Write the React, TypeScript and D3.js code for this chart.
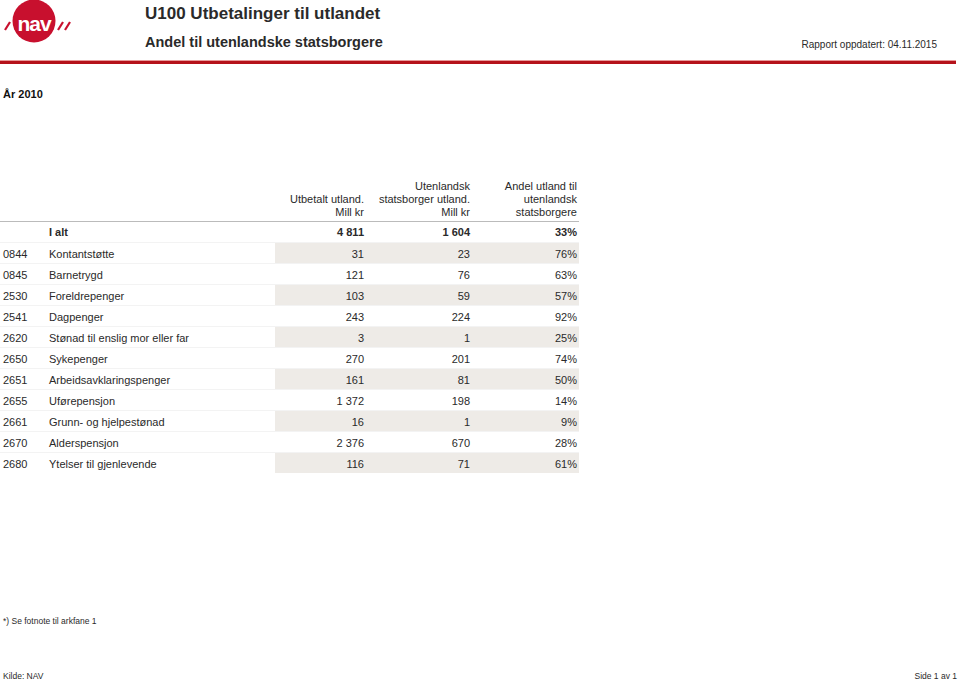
import React, { useRef, useEffect } from "react";
import * as d3 from "d3";

const codes = ["0844", "0845", "2530", "2541", "2620", "2650", "2651", "2655", "2661", "2670", "2680"];
const names = [
    "Kontantstøtte",
    "Barnetrygd",
    "Foreldrepenger",
    "Dagpenger",
    "Stønad til enslig mor eller far",
    "Sykepenger",
    "Arbeidsavklaringspenger",
    "Uførepensjon",
    "Grunn- og hjelpestønad",
    "Alderspensjon",
    "Ytelser til gjenlevende",
];
const utbetalt = [31, 121, 103, 243, 3, 270, 161, 1372, 16, 2376, 116];
const utenlandsk = [23, 76, 59, 224, 1, 201, 81, 198, 1, 670, 71];
const andel = [76, 63, 57, 92, 25, 74, 50, 14, 9, 28, 61];
const totals = ["I alt", 4811, 1604, 33];
const colHeaders = [
    ["Utbetalt utland.", "Mill kr"],
    ["Utenlandsk", "statsborger utland.", "Mill kr"],
    ["Andel utland til", "utenlandsk", "statsborgere"],
];

const App = () => {
    const ref = useRef(null);

    useEffect(() => {
        const width = 960;
        const height = 681;
        const font = "'Liberation Sans', Arial, sans-serif";
        const ink = "#2a2a2a";
        const red = "#c8102e";
        const num = d3.formatLocale({ decimal: ",", thousands: "\u00a0", grouping: [3], currency: ["", " kr"] }).format(",d");

        const svg = d3.create("svg")
            .attr("width", width)
            .attr("height", height)
            .attr("viewBox", [0, 0, width, height])
            .style("display", "block")
            .style("font-family", font);

        // logo
        const logo = svg.append("g");
        logo.append("circle").attr("cx", 34).attr("cy", 21).attr("r", 21.5).attr("fill", red);
        logo.append("text")
            .attr("x", 34).attr("y", 31)
            .attr("text-anchor", "middle")
            .attr("fill", "#fff")
            .style("font", `bold 21px ${font}`)
            .style("letter-spacing", "-1px")
            .text("nav");
        [[5, 30, 10, 22], [58, 30, 63, 22], [65, 30, 70, 22]].forEach(([x1, y1, x2, y2]) => {
            logo.append("line")
                .attr("x1", x1).attr("y1", y1).attr("x2", x2).attr("y2", y2)
                .attr("stroke", red).attr("stroke-width", 2.2);
        });

        svg.append("text").attr("x", 145).attr("y", 19)
            .attr("fill", ink).style("font", `bold 17px ${font}`)
            .text("U100 Utbetalinger til utlandet");
        svg.append("text").attr("x", 145).attr("y", 47)
            .attr("fill", ink).style("font", `bold 14.5px ${font}`)
            .text("Andel til utenlandske statsborgere");
        svg.append("text").attr("x", 937).attr("y", 48)
            .attr("text-anchor", "end")
            .attr("fill", ink).style("font", `10px ${font}`)
            .text("Rapport oppdatert: 04.11.2015");

        svg.append("rect").attr("x", 0).attr("y", 60).attr("width", 956).attr("height", 1).attr("fill", "#e89a9a");
        svg.append("rect").attr("x", 0).attr("y", 61).attr("width", 956).attr("height", 3).attr("fill", "#b5121b");

        svg.append("text").attr("x", 3).attr("y", 98)
            .attr("fill", "#111").style("font", `bold 11px ${font}`)
            .text("År 2010");

        // table
        const colRight = [364, 470, 577];
        const tableRight = 579;
        const shadeLeft = 275;
        const fs = 11;

        colHeaders.forEach((lines, i) => {
            const t = svg.append("text")
                .attr("text-anchor", "end")
                .attr("fill", ink)
                .style("font", `${fs}px ${font}`);
            lines.forEach((ln, j) => {
                t.append("tspan")
                    .attr("x", colRight[i])
                    .attr("y", 216 - (lines.length - 1 - j) * 13)
                    .text(ln);
            });
        });

        svg.append("line")
            .attr("x1", 0).attr("x2", tableRight)
            .attr("y1", 221.5).attr("y2", 221.5)
            .attr("stroke", "#bbb");

        const rows = ["total", ...codes];
        const y = d3.scaleBand().domain(rows).range([222, 222 + rows.length * 21]);

        // total row
        svg.append("text").attr("x", 49).attr("y", y("total") + 14)
            .attr("fill", ink).style("font", `bold ${fs}px ${font}`).text(totals[0]);
        [num(totals[1]), num(totals[2]), totals[3] + "%"].forEach((v, i) => {
            svg.append("text").attr("x", colRight[i]).attr("y", y("total") + 14)
                .attr("text-anchor", "end")
                .attr("fill", ink).style("font", `bold ${fs}px ${font}`).text(v);
        });

        codes.forEach((code, i) => {
            const top = y(code);
            if (i % 2 === 0) {
                svg.append("rect")
                    .attr("x", shadeLeft).attr("y", top)
                    .attr("width", tableRight - shadeLeft).attr("height", y.bandwidth() - 1)
                    .attr("fill", "#eeebe7");
            }
            svg.append("line")
                .attr("x1", 0).attr("x2", tableRight)
                .attr("y1", top - 0.5).attr("y2", top - 0.5)
                .attr("stroke", "#f3f3f3");
            const base = top + 15;
            svg.append("text").attr("x", 3).attr("y", base)
                .attr("fill", ink).style("font", `${fs}px ${font}`).text(code);
            svg.append("text").attr("x", 49).attr("y", base)
                .attr("fill", ink).style("font", `${fs}px ${font}`).text(names[i]);
            [num(utbetalt[i]), num(utenlandsk[i]), andel[i] + "%"].forEach((v, k) => {
                svg.append("text").attr("x", colRight[k]).attr("y", base)
                    .attr("text-anchor", "end")
                    .attr("fill", ink).style("font", `${fs}px ${font}`).text(v);
            });
        });

        svg.append("text").attr("x", 3).attr("y", 624)
            .attr("fill", ink).style("font", `8.5px ${font}`)
            .text("*) Se fotnote til arkfane 1");
        svg.append("text").attr("x", 3).attr("y", 679)
            .attr("fill", ink).style("font", `8.5px ${font}`)
            .text("Kilde: NAV");
        svg.append("text").attr("x", 957).attr("y", 679)
            .attr("text-anchor", "end")
            .attr("fill", ink).style("font", `8.5px ${font}`)
            .text("Side 1 av 1");

        ref.current.innerHTML = "";
        ref.current.appendChild(svg.node());
    }, []);

    return <div ref={ref} style={{ position: "absolute", left: 0, top: 0 }} />;
};

export default App;
